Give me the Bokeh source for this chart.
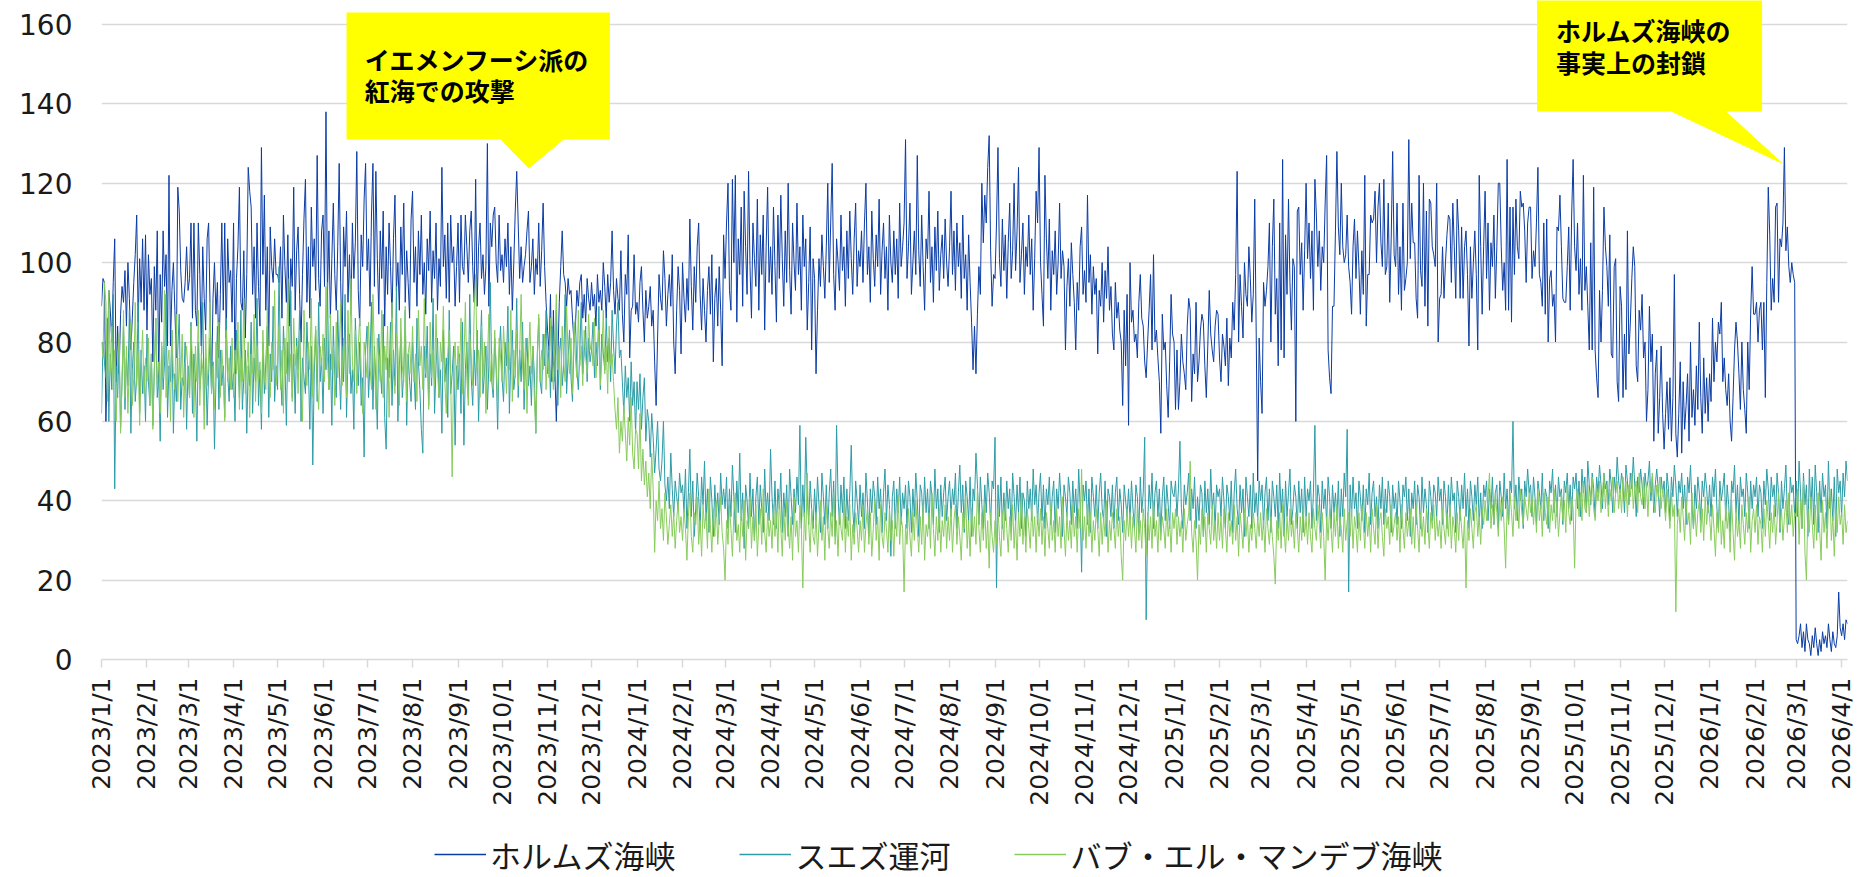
import math
import pandas as pd
from bokeh.plotting import figure
from bokeh.layouts import column
from bokeh.models import FixedTicker, Legend, LegendItem, Label, PolyAnnotation, Range1d
from bokeh.embed import file_html
from bokeh.resources import INLINE

series_names = ["ホルムズ海峡", "スエズ運河", "バブ・エル・マンデブ海峡"]
series_colors = ["#0A3CA5", "#2C9CA6", "#88CC5C"]
y_ticks = [0, 20, 40, 60, 80, 100, 120, 140, 160]
x_tick_labels = [
    "2023/1/1", "2023/2/1", "2023/3/1", "2023/4/1", "2023/5/1", "2023/6/1", "2023/7/1", "2023/8/1",
    "2023/9/1", "2023/10/1", "2023/11/1", "2023/12/1",
    "2024/1/1", "2024/2/1", "2024/3/1", "2024/4/1", "2024/5/1", "2024/6/1", "2024/7/1", "2024/8/1",
    "2024/9/1", "2024/10/1", "2024/11/1", "2024/12/1",
    "2025/1/1", "2025/2/1", "2025/3/1", "2025/4/1", "2025/5/1", "2025/6/1", "2025/7/1", "2025/8/1",
    "2025/9/1", "2025/10/1", "2025/11/1", "2025/12/1",
    "2026/1/1", "2026/2/1", "2026/3/1", "2026/4/1",
]
annotation_texts = [["イエメンフーシ派の", "紅海での攻撃"], ["ホルムズ海峡の", "事実上の封鎖"]]

# ---------------- ホルムズ海峡 (daily) ----------------
hormuz_2023 = [
    89,96,95,60,75,93,88,80,95,106,70,84,72,87,94,90,98,84,100,91,78,86,95,102,112,85,101,90,106,88,107,
    83,102,92,96,75,99,88,108,70,97,85,108,94,102,79,122,79,93,100,88,76,119,113,98,91,90,95,104,
    93,96,110,86,110,88,84,110,97,79,104,91,83,106,110,89,68,91,100,87,95,76,92,110,88,110,81,106,95,98,85,
    110,72,96,104,119,90,88,103,81,97,124,118,114,92,104,86,110,94,84,129,97,117,88,104,79,109,99,95,106,97,
    97,95,104,86,112,99,90,107,84,101,94,119,88,103,109,92,80,97,111,121,90,104,86,114,99,106,93,127,96,89,108,
    112,94,138,92,108,86,101,115,97,88,104,125,95,78,109,99,113,90,102,87,110,96,105,128,93,84,107,99,116,125,
    98,106,89,112,125,94,123,101,87,108,96,113,84,104,92,110,99,86,106,117,93,100,88,109,97,115,90,103,95,86,111,
    118,95,104,89,108,97,112,92,100,87,106,98,113,90,103,96,110,88,101,94,124,99,107,91,110,90,112,100,104,89,99,
    110,90,112,99,97,112,104,95,108,113,99,90,121,89,104,110,96,102,92,99,130,89,110,104,112,114,100,95,112,98,
    102,95,106,99,110,92,104,88,100,113,123,110,96,104,95,99,102,108,113,95,99,106,92,101,97,110,94,103,115,99,90,
    83,78,92,70,88,72,60,75,90,99,108,97,95,89,96,92,93,86,80,84,93,89,95,97,86,92,85,96,91,88,
    95,89,92,84,97,90,93,88,100,94,86,97,90,95,108,93,87,96,91,88,103,87,80,97,92,107,76,88,89,102,87,
]
hormuz_2024 = [
    90,85,95,99,88,80,93,86,89,94,84,88,75,64,81,97,91,88,103,96,84,92,97,89,102,80,72,88,99,93,77,
    100,91,85,96,88,111,94,83,99,90,104,110,92,83,96,88,80,93,99,87,102,75,91,96,84,99,88,74,107,
    96,110,120,93,88,121,100,122,85,106,97,114,89,118,104,92,123,99,86,110,101,94,116,88,107,97,112,83,104,119,95,
    104,92,114,99,85,112,96,117,101,89,108,95,120,98,87,110,100,93,115,97,104,88,112,99,106,83,95,109,78,101,
    96,72,88,101,94,107,99,91,104,120,95,110,125,97,88,106,100,93,112,98,104,89,108,96,113,101,92,106,115,94,103,
    99,108,95,110,120,97,104,90,113,101,94,107,99,116,92,103,110,96,104,88,112,100,95,108,97,106,91,115,99,104,
    110,131,96,104,115,92,100,108,97,127,103,94,112,99,88,106,101,118,95,104,90,109,98,113,93,102,107,96,111,100,94,
    104,118,97,108,93,110,99,105,91,112,96,102,88,107,95,85,73,84,72,87,99,92,120,105,117,110,124,132,103,89,97,
    96,110,129,101,94,111,98,107,91,105,115,96,103,120,98,108,124,95,102,110,92,104,99,112,97,106,88,101,118,110,
    129,100,92,84,122,106,96,111,88,103,97,108,92,100,115,96,103,99,78,94,101,89,105,97,90,78,95,88,104,109,92,
    98,90,117,95,102,87,99,92,96,77,93,89,100,85,98,91,104,88,94,82,78,95,86,90,83,80,64,88,74,92,
    59,100,85,88,80,82,76,90,97,86,84,75,71,80,88,97,78,102,80,83,76,70,57,87,78,80,69,61,75,92,82,
]
hormuz_2025 = [
    80,63,78,63,70,82,75,72,68,84,91,88,65,77,72,90,70,75,83,87,85,74,66,79,93,82,78,75,84,88,87,
    76,70,82,79,74,86,69,81,76,90,83,97,123,80,97,89,81,100,92,89,104,96,85,92,116,82,45,81,
    70,62,95,89,93,99,110,80,104,116,87,96,74,110,78,126,76,107,92,116,95,83,101,99,60,113,114,97,105,88,103,
    120,101,110,96,108,88,121,112,99,108,93,104,100,115,127,78,71,67,89,89,108,128,109,102,120,104,100,102,112,99,
    95,87,104,111,96,108,99,87,103,92,122,84,97,97,112,110,111,118,100,114,120,105,99,121,97,99,115,90,106,128,102,
    99,115,92,104,88,115,93,96,100,131,101,115,105,105,91,86,122,98,94,120,89,113,84,116,115,104,102,99,120,80,
    91,92,104,91,100,107,112,111,95,115,104,91,116,108,91,109,91,104,108,97,79,104,91,100,108,97,78,122,104,87,104,
    118,96,110,88,105,99,112,91,104,120,120,104,93,100,88,126,88,114,85,114,97,116,104,101,118,114,115,108,95,110,114,
    114,96,103,99,110,124,97,95,89,110,87,111,80,96,98,89,92,80,109,108,117,104,91,90,90,99,109,88,112,126,
    104,98,110,92,101,88,122,93,99,89,78,105,78,119,78,71,66,93,80,93,114,104,99,89,107,77,76,99,101,70,65,
    94,89,66,82,68,108,77,85,96,104,99,74,70,88,83,92,76,80,60,68,89,75,82,55,72,78,57,66,79,62,
    53,62,70,58,71,55,66,97,57,51,62,75,52,70,58,64,72,55,80,61,68,59,74,63,85,66,57,76,62,71,60,
]
hormuz_2026 = [
    72,65,86,70,80,75,85,82,90,70,76,68,64,72,60,55,66,78,85,80,72,63,80,68,63,57,80,68,87,99,87,
    87,90,80,88,90,78,90,66,95,119,107,88,96,90,114,115,90,106,104,110,129,103,109,99,95,100,97,95,
    5,4,6,9,3,7,2,9,5,4,1,6,3,8,4,1,5,2,7,4,6,3,9,5,2,7,4,3,6,17,8,
    6,9,5,10,9,
]

# ---------------- スエズ運河 (daily) ----------------
suez_2023 = [
    62,80,75,71,86,60,77,68,92,43,74,66,79,58,70,84,63,76,69,88,57,73,80,65,71,90,62,78,67,74,60,
    82,70,64,77,59,73,86,66,71,55,79,68,75,92,61,74,70,83,57,72,65,78,87,63,71,69,80,58,
    74,66,85,62,77,71,55,80,68,73,90,64,76,59,72,81,67,75,53,70,84,63,78,69,74,61,86,72,65,79,68,
    72,60,83,75,66,88,63,71,78,57,74,69,85,62,76,70,91,64,73,58,80,67,75,84,61,77,70,89,65,74,
    68,99,72,64,84,75,59,80,70,93,66,77,62,81,73,88,60,76,71,67,85,74,58,79,49,72,83,65,90,70,76,
    62,81,73,95,68,77,59,84,71,66,88,74,63,79,70,92,61,76,82,67,73,58,86,75,69,80,64,71,51,78,
    84,66,75,90,63,79,70,58,82,73,67,87,61,53,76,71,85,64,78,69,94,60,74,81,66,72,88,59,77,70,65,
    80,72,63,86,75,68,58,52,79,71,84,64,77,69,91,62,74,81,66,73,57,83,70,76,61,88,67,72,79,54,74,
    68,77,62,85,54,73,80,66,92,71,64,78,69,83,60,75,88,67,72,79,63,74,95,70,66,81,73,58,77,84,
    71,65,80,74,89,62,76,83,68,72,91,66,78,70,85,63,75,81,69,74,64,79,72,57,77,86,70,67,82,74,88,
    72,79,66,84,75,70,88,64,77,81,69,74,92,67,76,83,71,65,80,86,73,68,78,90,72,77,84,70,81,75,
    78,85,71,80,74,89,68,82,77,73,86,75,81,70,88,79,72,84,90,76,78,70,62,74,66,71,60,75,64,70,57,
]
suez_2024 = [
    70,63,72,58,66,71,55,63,60,51,62,56,47,53,60,48,45,50,60,44,40,46,38,52,43,36,45,41,38,47,42,
    44,37,48,33,42,53,36,45,31,38,47,41,33,46,39,50,35,43,32,46,40,31,44,36,42,34,47,39,43,
    38,46,33,43,36,49,41,32,45,37,52,35,42,28,44,40,33,47,36,43,30,41,46,34,44,38,32,48,37,42,35,
    53,41,34,45,33,43,38,47,32,42,36,44,31,48,41,34,43,37,46,39,59,33,44,36,56,42,34,45,38,33,
    43,35,46,39,32,47,41,34,44,33,42,48,36,45,31,59,41,34,44,37,46,33,43,35,42,54,38,32,45,40,34,
    44,36,42,33,47,40,31,43,37,45,41,34,46,38,43,32,42,48,35,44,39,26,41,45,33,43,37,46,34,42,
    38,44,33,45,41,32,43,36,47,40,31,44,42,35,46,37,43,33,45,41,34,48,38,43,32,44,36,42,46,35,41,
    45,36,43,39,47,33,42,49,37,44,32,45,41,35,46,31,43,40,52,44,34,46,39,33,44,37,47,42,34,45,43,
    56,18,44,36,46,33,42,35,45,38,43,32,47,41,34,44,37,46,33,42,40,31,45,38,43,35,48,39,44,34,
    42,47,35,44,33,43,39,46,34,41,45,32,43,38,47,40,31,44,41,36,46,42,34,45,37,43,33,48,39,22,44,
    40,45,34,43,32,46,41,36,44,33,42,47,38,35,45,31,43,41,36,44,33,42,46,35,43,39,32,44,40,36,
    43,35,45,38,33,44,41,32,46,37,42,56,10,34,44,38,47,33,42,45,36,43,32,41,46,35,44,39,33,45,42,
]
suez_2025 = [
    41,45,36,43,55,38,33,44,39,42,47,35,43,38,46,33,41,35,44,42,31,45,37,43,34,48,38,42,33,44,41,
    43,36,46,40,33,44,41,35,45,32,42,48,38,34,44,37,43,31,46,41,36,44,33,47,37,42,35,45,
    40,44,33,42,46,35,43,32,45,41,36,44,33,47,37,43,31,45,36,42,48,34,38,44,41,33,45,37,43,32,46,
    36,43,40,45,33,42,59,35,44,41,32,45,38,43,34,46,41,33,44,37,42,35,45,31,43,36,47,41,58,17,
    44,36,46,38,42,33,45,41,35,44,32,43,39,47,34,42,45,36,41,33,44,38,46,34,43,37,45,41,32,44,38,
    42,34,45,40,33,44,41,46,35,43,31,42,38,45,34,44,41,33,46,37,43,39,32,45,41,35,44,42,36,46,
    40,43,34,45,41,33,44,36,46,40,42,32,45,41,35,44,38,47,36,43,33,45,41,35,44,39,46,34,42,33,44,
    41,45,35,43,38,46,34,42,44,33,45,41,36,47,38,43,34,45,42,60,38,44,35,46,40,43,33,45,41,48,42,
    44,36,46,41,34,45,42,38,47,35,43,41,33,45,42,48,37,44,36,46,41,43,34,45,42,47,38,44,35,46,
    43,47,38,45,36,48,42,46,37,50,44,39,47,43,36,46,42,49,44,38,47,43,45,39,48,44,37,46,42,51,45,
    42,47,44,37,49,45,39,47,43,51,44,36,46,42,48,44,38,47,43,45,50,40,46,37,44,48,43,36,46,42,
    45,37,47,43,35,46,41,49,44,36,45,42,47,38,44,34,46,42,49,39,33,44,38,46,42,35,45,41,47,43,37,
]
suez_2026 = [
    44,36,46,41,48,38,33,45,40,43,47,35,44,39,32,45,42,49,37,44,34,46,41,43,36,47,42,33,45,38,44,
    41,46,36,44,42,33,45,39,48,43,35,46,41,44,36,47,42,32,45,38,43,49,37,34,46,42,44,36,
    45,36,50,42,33,47,39,44,31,48,38,46,34,49,42,32,45,37,47,41,44,33,50,38,43,35,46,31,48,42,45,
    36,47,41,50,45,
]

# ---------------- バブ・エル・マンデブ海峡 (daily) ----------------
bab_2023 = [
    80,76,95,90,65,93,72,84,68,78,60,74,82,57,70,88,66,79,62,75,85,64,71,90,69,77,59,73,83,67,76,
    70,81,64,77,58,73,86,69,75,62,80,71,93,66,74,78,60,83,72,68,87,65,76,70,82,61,74,79,
    72,66,84,75,61,79,70,88,64,77,73,58,82,69,76,90,67,74,63,80,71,85,66,78,72,60,83,70,76,68,81,
    66,78,72,85,63,76,70,91,67,74,80,61,77,72,87,65,79,70,75,62,83,71,68,89,74,66,80,73,93,69,
    75,84,68,78,62,81,72,96,70,77,65,86,74,79,67,83,71,60,88,75,69,80,73,91,66,77,84,70,63,79,74,
    82,70,94,76,68,87,73,79,64,85,71,77,90,69,81,74,66,88,72,96,75,70,83,67,79,86,73,62,80,76,
    71,85,74,68,92,77,63,81,75,70,88,66,79,73,84,61,76,90,72,67,82,78,64,86,74,70,89,65,77,80,72,
    84,70,77,65,88,74,79,68,91,72,76,63,85,71,78,69,87,73,66,80,75,89,70,62,77,83,71,46,74,80,68,
    79,72,86,67,75,90,71,64,82,76,69,88,97,73,78,66,84,71,80,62,75,87,70,77,68,83,74,65,81,76,
    70,84,76,67,80,73,88,65,78,71,83,69,77,92,74,68,81,62,76,85,72,79,66,57,75,87,70,78,73,82,68,
    77,71,86,74,68,80,92,73,79,66,84,75,70,89,77,72,81,67,85,76,71,88,74,79,69,83,76,72,87,78,
    80,74,86,71,78,83,69,76,88,72,79,67,84,74,77,70,63,58,66,52,60,55,64,57,50,61,54,66,52,48,58,
]
bab_2024 = [
    57,48,62,45,53,44,50,41,47,38,52,43,27,40,35,45,33,38,30,42,36,29,34,39,31,37,28,35,40,32,36,
    30,38,33,25,36,42,31,27,37,34,41,29,35,26,39,33,37,28,43,34,27,38,31,40,29,35,41,32,28,
    20,35,29,39,33,26,37,42,30,34,27,38,31,40,25,35,33,41,28,36,30,39,26,34,38,29,43,32,27,37,31,
    35,28,39,31,37,27,41,33,26,38,30,40,34,28,36,25,41,31,35,27,39,33,18,37,30,47,34,27,38,31,
    29,37,26,34,40,30,36,25,39,33,28,37,31,42,29,35,26,38,33,30,40,27,36,31,39,25,34,29,37,33,27,
    35,30,39,27,34,38,29,37,26,33,40,30,36,25,39,31,28,37,33,27,38,30,35,26,37,31,41,29,36,33,
    17,34,29,38,31,26,37,30,40,33,27,36,29,39,25,34,31,37,28,42,33,26,36,30,38,27,35,31,39,28,36,
    30,38,27,35,39,29,36,31,25,37,33,41,28,35,26,38,31,36,29,43,33,27,37,30,39,28,35,23,37,31,27,
    35,29,38,31,26,37,30,40,33,27,36,30,39,28,35,25,37,31,42,29,36,27,38,33,28,39,31,36,27,37,
    31,38,29,36,26,37,33,28,39,30,35,27,38,31,36,28,41,33,26,37,30,35,28,39,31,36,27,38,33,48,30,
    36,28,39,31,37,27,35,30,38,33,26,37,29,36,31,40,27,35,30,37,33,28,38,31,36,26,20,35,30,38,
    31,37,28,36,33,27,39,30,35,28,38,33,26,37,30,36,28,40,31,35,27,37,30,36,33,28,38,31,35,27,37,
]
bab_2025 = [
    33,38,29,36,31,35,27,38,30,34,37,50,32,27,35,30,20,34,29,38,31,36,27,37,33,29,39,30,35,28,37,
    30,36,28,38,33,27,37,31,35,29,39,30,36,26,37,33,28,38,31,36,27,34,30,37,33,28,36,31,
    37,30,35,27,38,33,29,36,31,26,19,35,30,37,28,39,33,27,36,30,38,31,35,28,37,33,27,36,30,38,31,
    36,29,37,31,27,38,33,30,39,34,28,37,31,20,36,30,38,33,27,37,31,39,28,36,33,27,38,30,35,37,
    31,38,28,36,33,27,37,30,39,34,28,37,31,36,27,38,33,29,39,28,35,37,31,26,38,33,36,29,39,31,34,
    37,30,36,27,39,33,28,37,31,35,38,29,36,28,39,33,27,37,31,36,29,38,34,28,37,33,39,30,36,31,
    35,28,38,33,29,37,31,39,28,36,33,27,37,30,38,33,28,36,18,35,30,38,33,28,37,39,31,36,29,38,34,
    40,35,41,47,33,39,34,42,37,31,40,35,41,33,23,39,34,42,37,31,41,35,40,33,43,37,34,41,38,35,42,
    37,41,34,40,32,43,35,39,31,42,37,34,41,32,39,35,43,33,40,31,37,42,35,40,32,44,37,34,41,38,
    23,40,43,36,42,35,45,38,37,44,36,42,46,38,35,43,40,45,37,42,47,38,44,36,43,40,46,37,42,45,38,
    43,37,46,40,45,36,44,41,47,38,43,45,37,47,41,39,46,38,44,36,45,42,47,39,37,44,41,46,38,43,
    40,35,43,38,33,42,36,39,12,34,38,32,41,36,30,40,34,37,29,42,33,38,31,37,40,32,38,30,41,34,39,
]
bab_2026 = [
    36,30,39,33,26,37,32,41,29,35,28,39,33,37,27,40,32,25,38,31,35,28,39,34,29,37,32,41,27,35,38,
    32,39,29,36,34,27,38,31,40,35,28,37,32,39,29,35,42,33,38,30,36,40,32,42,34,39,31,37,
    36,43,29,40,33,45,27,20,38,32,41,34,28,39,30,42,33,25,40,32,37,28,39,43,30,36,26,38,32,41,34,
    37,29,39,32,35,
]

ORIGIN = pd.Timestamp("2023-01-01")


def daily(year_lists):
    xs, ys = [], []
    for year, vals in year_lists:
        d0 = (pd.Timestamp(f"{year}-01-01") - ORIGIN).days
        for i, v in enumerate(vals):
            xs.append(d0 + i)
            ys.append(v)
    return xs, ys


series = [
    daily([(2023, hormuz_2023), (2024, hormuz_2024), (2025, hormuz_2025), (2026, hormuz_2026)]),
    daily([(2023, suez_2023), (2024, suez_2024), (2025, suez_2025), (2026, suez_2026)]),
    daily([(2023, bab_2023), (2024, bab_2024), (2025, bab_2025), (2026, bab_2026)]),
]
x_end = max(max(s[0]) for s in series)

tick_pos = []
for lab in x_tick_labels:
    yy, mm, dd = lab.split("/")
    tick_pos.append((pd.Timestamp(int(yy), int(mm), int(dd)) - ORIGIN).days)

FONT_NUM = "DejaVu Sans"
FONT_JP = "Noto Sans CJK JP"
TEXT_COLOR = "#1a1a1a"
GRID_COLOR = "#D9D9D9"

# main plot: frame spans from the top of the canvas (so callouts are not clipped)
# down to the zero line; y range top is extended accordingly (no ticks above 160)
MAIN_H = 817
FRAME_H = 659
Y_TOP = 160 * FRAME_H / 635.0

p = figure(width=1857, height=MAIN_H, output_backend="svg", toolbar_location=None,
           x_range=Range1d(0, x_end), y_range=Range1d(0, Y_TOP),
           min_border_left=101, min_border_right=10, min_border_top=0,
           min_border_bottom=MAIN_H - FRAME_H)
p.outline_line_color = None
p.background_fill_color = "white"
p.border_fill_color = "white"

renderers = []
for (xs, ys), col in zip(series, series_colors):
    r = p.line(xs, ys, line_color=col, line_width=1)
    renderers.append(r)

# axes
p.xgrid.grid_line_color = None
p.ygrid.grid_line_color = GRID_COLOR
p.ygrid.grid_line_width = 1.5
p.yaxis.ticker = FixedTicker(ticks=y_ticks)
p.yaxis.axis_line_color = None
p.yaxis.major_tick_line_color = None
p.yaxis.minor_tick_line_color = None
p.yaxis.major_tick_out = 0
p.yaxis.major_tick_in = 0
p.yaxis.minor_tick_out = 0
p.yaxis.major_label_standoff = 29
p.yaxis.major_label_text_font = FONT_NUM
p.yaxis.major_label_text_font_size = "28px"
p.yaxis.major_label_text_color = TEXT_COLOR

p.xaxis.ticker = FixedTicker(ticks=tick_pos)
p.xaxis.major_label_overrides = {t: lab for t, lab in zip(tick_pos, x_tick_labels)}
p.xaxis.major_label_orientation = math.pi / 2
p.xaxis.axis_line_color = GRID_COLOR
p.xaxis.axis_line_width = 1.5
p.xaxis.major_tick_line_color = GRID_COLOR
p.xaxis.major_tick_line_width = 1.5
p.xaxis.major_tick_out = 8
p.xaxis.major_tick_in = 0
p.xaxis.minor_tick_line_color = None
p.xaxis.minor_tick_out = 0
p.xaxis.major_label_standoff = 10
p.xaxis.major_label_text_font = FONT_NUM
p.xaxis.major_label_text_font_size = "25px"
p.xaxis.major_label_text_color = TEXT_COLOR

# callouts (yellow)
call1 = PolyAnnotation(xs=[167, 346.5, 346.5, 315, 291.3, 272, 167],
                       ys=[163, 163, 131, 131, 123.7, 131, 131],
                       fill_color="#FFFF00", fill_alpha=1, line_color=None, level="overlay")
call2 = PolyAnnotation(xs=[978.4, 1131.8, 1131.8, 1107.3, 1146.8, 1069.8, 978.4],
                       ys=[Y_TOP + 1, Y_TOP + 1, 138.1, 138.1, 124.7, 138.1, 138.1],
                       fill_color="#FFFF00", fill_alpha=1, line_color=None, level="overlay")
p.add_layout(call1)
p.add_layout(call2)

for (tx, ty_list), lines in zip([(179.5, [151.2, 143.4]), (991.3, [158.5, 150.6])], annotation_texts):
    for ty, txt in zip(ty_list, lines):
        p.add_layout(Label(x=tx, y=ty, text=txt, text_font=FONT_JP, text_font_size="25px",
                           text_font_style="bold", text_color="black",
                           text_align="left", text_baseline="middle", level="overlay"))

# legend strip below the chart
LEG_H = 877 - MAIN_H
pl = figure(width=1857, height=LEG_H, output_backend="svg", toolbar_location=None,
            x_range=Range1d(0, 1), y_range=Range1d(0, 1),
            min_border_left=0, min_border_right=0, min_border_top=0, min_border_bottom=0)
pl.outline_line_color = None
pl.axis.visible = False
pl.grid.grid_line_color = None
proxies = [pl.line([-5, -4], [-5, -4], line_color=c, line_width=1.5) for c in series_colors]
legend = Legend(items=[LegendItem(label=n, renderers=[r]) for n, r in zip(series_names, proxies)],
                orientation="horizontal", location=(333, 0),
                border_line_color=None, background_fill_alpha=0,
                padding=0, margin=0, spacing=64, label_standoff=4,
                glyph_width=52, glyph_height=46, label_height=46,
                label_text_font=FONT_JP, label_text_font_size="31px",
                label_text_color=TEXT_COLOR, label_text_baseline="middle")
pl.add_layout(legend)

open("out.html", "w").write(file_html(column(p, pl, spacing=0), INLINE))
